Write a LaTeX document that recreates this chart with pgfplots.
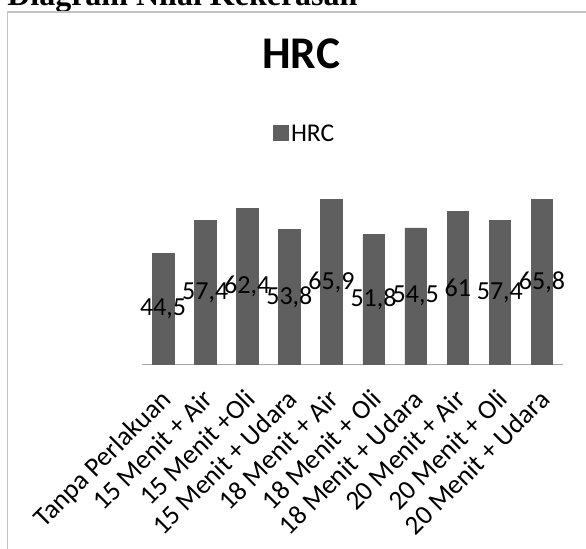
\documentclass[border=0pt]{standalone}
\usepackage{pgfplots}
\pgfplotsset{compat=1.18}
\usepackage{fontspec}
\setmainfont{Carlito}
\newfontfamily\capfont{Liberation Serif}
\definecolor{barc}{HTML}{5F5F5F}
\definecolor{framec}{HTML}{C4C4C4}
\definecolor{axisc}{HTML}{A6A6A6}

\begin{document}
\begin{tikzpicture}[x=0.75pt,y=0.75pt]
\useasboundingbox (0,0) rectangle (586,549);
\clip (0,0) rectangle (586,549);
% caption above the chart, cut at the top
\node[anchor=base west, inner sep=0pt, font=\capfont\bfseries\fontsize{24}{28}\selectfont] at (7,543.5) {Diagram Nilai Kekerasan};
% chart frame
\draw[framec, line width=1.1pt] (7.5,-20) -- (7.5,537) -- (620,537);
\begin{axis}[
  at={(106.5pt,138.4pt)}, anchor=south west,
  scale only axis, width=315.75pt, height=130.9pt,
  enlargelimits=false, clip=false,
  xmin=-0.5, xmax=9.5, ymin=0, ymax=69.7,
  ybar, bar width=16.1pt,
  axis x line*=bottom, axis y line=none,
  axis line style={axisc, line width=1pt},
  ytick=\empty,
  xtick={0,...,9},
  xticklabels={Tanpa Perlakuan,15 Menit + Air,15 Menit +Oli,15 Menit + Udara,18 Menit + Air,18 Menit + Oli,18 Menit + Udara,20 Menit + Air,20 Menit + Oli,20 Menit + Udara},
  major tick length=0pt,
  xticklabel shift=12.5pt,
  x tick label style={font=\fontsize{20.3}{24}\selectfont, xshift=-3pt, rotate=45, anchor=north east},
  /pgf/number format/.cd, use comma, assume math mode=true, /pgfplots/.cd,
  nodes near coords,
  visualization depends on={rawy \as \rawy},
  every node near coord/.append style={font=\fontsize{19.5}{23}\selectfont, black, anchor=center, yshift=-\rawy*0.9391pt},
  title={HRC},
  title style={at={(0.378,1.649)}, anchor=base, font=\bfseries\fontsize{34}{40}\selectfont},
  legend style={at={(0.387,1.318)}, anchor=center, draw=none, fill=none, font=\fontsize{19.2}{23}\selectfont},
  legend image code/.code={\fill[barc] (0pt,-4.6pt) rectangle (11.2pt,6.6pt);},
]
\addplot[fill=barc, draw=barc] coordinates {
  (0,44.5) (1,57.4) (2,62.4) (3,53.8) (4,65.9)
  (5,51.8) (6,54.5) (7,61) (8,57.4) (9,65.8)
};
\addlegendentry{HRC}
\end{axis}
\end{tikzpicture}
\end{document}
